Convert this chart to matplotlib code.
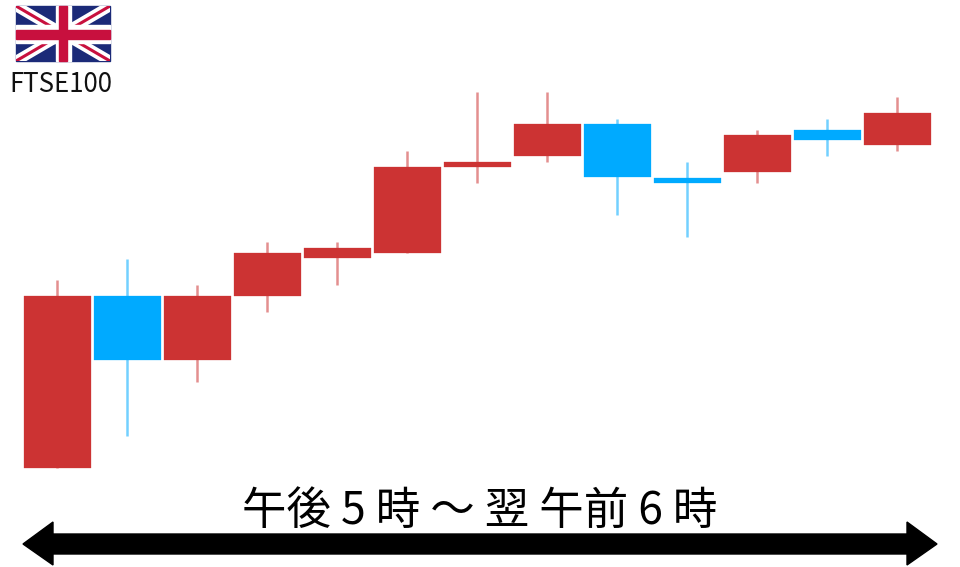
import matplotlib
matplotlib.use("Agg")
import matplotlib.pyplot as plt
from matplotlib.patches import Polygon, Rectangle

# Price scale: arbitrary index points
opens  = [0, 172, 108, 172, 210, 215, 301, 312, 344, 290, 296, 338, 323]
closes = [172, 108, 172, 215, 220, 301, 306, 344, 291, 285, 333, 328, 355]
highs  = [188, 209, 183, 226, 226, 317, 376, 376, 349, 306, 338, 349, 371]
lows   = [0, 32, 86, 156, 183, 215, 285, 306, 253, 231, 285, 312, 317]
flag_label = "FTSE100"
time_label = "午後 5 時 ～ 翌 午前 6 時"

UP, DOWN = "#cc3333", "#00aaff"
W, H = 960, 567
fig = plt.figure(figsize=(W / 100, H / 100), dpi=100)
ax = fig.add_axes([0, 0, 1, 1])
ax.set_xlim(-0.8214, 12.8929)
ax.set_ylim(-99.5, 467.5)
ax.axis("off")

for i, (o, c, hi, lo) in enumerate(zip(opens, closes, highs, lows)):
    col = UP if c >= o else DOWN
    ax.vlines(i, lo, hi, color=col, alpha=0.55, linewidth=1.8, zorder=2)
    ax.bar(i, abs(c - o), bottom=min(o, c), width=0.95, color=col,
           edgecolor=col, linewidth=0.2, zorder=3)

# Overlay in pixel coordinates (flag and time arrow)
ov = fig.add_axes([0, 0, 1, 1], facecolor="none")
ov.set_xlim(0, W)
ov.set_ylim(H, 0)
ov.axis("off")

# Flag
x0, x1, y0, y1 = 16, 110, 6, 61
clip = Rectangle((x0, y0), x1 - x0, y1 - y0, transform=ov.transData)
ov.add_patch(Rectangle((x0, y0), x1 - x0, y1 - y0, color="#1b2a78", zorder=4))
for (a, b) in [((x0, y0), (x1, y1)), ((x0, y1), (x1, y0))]:
    l, = ov.plot([a[0], b[0]], [a[1], b[1]], color="white", lw=7.5, zorder=5, solid_capstyle="projecting")
    l.set_clip_path(clip)
    l, = ov.plot([a[0], b[0]], [a[1], b[1]], color="#c8103e", lw=2.2, zorder=6, solid_capstyle="projecting")
    l.set_clip_path(clip)
xm, ym = 63, 34
ov.add_patch(Rectangle((xm - 7.5, y0), 15, y1 - y0, color="white", zorder=7))
ov.add_patch(Rectangle((x0, ym - 9), x1 - x0, 18, color="white", zorder=7))
ov.add_patch(Rectangle((xm - 4, y0), 8, y1 - y0, color="#c8103e", zorder=8))
ov.add_patch(Rectangle((x0, ym - 4.5), x1 - x0, 9, color="#c8103e", zorder=8))

ov.text(61, 84, flag_label, ha="center", va="center", fontsize=18.6,
        family=["Noto Sans CJK JP", "DejaVu Sans"], color="#111111")
ov.text(480, 511, time_label, ha="center", va="center", fontsize=32,
        family=["Noto Sans CJK JP", "DejaVu Sans"], color="black")

# Double-headed arrow
ov.add_patch(Polygon([(23, 544), (53, 522), (53, 534), (907, 534), (907, 522),
                      (937, 544), (907, 565), (907, 554), (53, 554), (53, 565)],
                     closed=True, color="black", zorder=9))

fig.savefig("out.png", dpi=100, facecolor="white")
